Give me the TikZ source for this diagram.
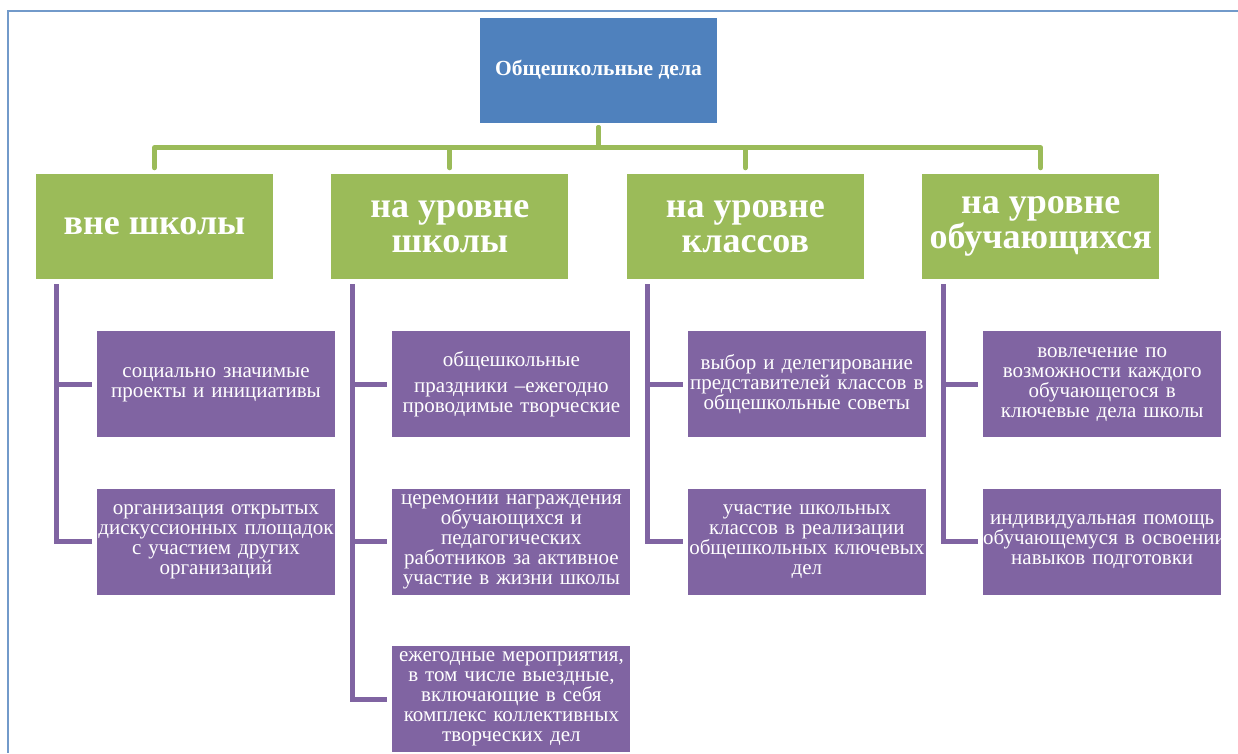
\documentclass[tikz,border=0pt]{standalone}
\usepackage{fontspec}
\setmainfont{Liberation Serif}
\usepackage{xcolor}
\usepackage{tikz}
\usetikzlibrary{positioning}

\definecolor{topblue}{HTML}{4F81BD}
\definecolor{lvlgreen}{HTML}{9BBB59}
\definecolor{subpurple}{HTML}{8064A2}

\begin{document}
\begin{tikzpicture}[x=1pt, y=-1pt, node distance=58pt,
    topbox/.style={rectangle, fill=topblue, text=white, font=\bfseries\fontsize{21.5}{24}\selectfont, minimum width=237pt, minimum height=105pt, inner sep=0pt},
    lvlbox/.style={rectangle, fill=lvlgreen, text=white, font=\bfseries\fontsize{36}{35}\selectfont, minimum width=237pt, minimum height=105pt, inner sep=0pt, align=center},
    subbox/.style={rectangle, fill=subpurple, text=white, font=\fontsize{21}{20}\selectfont, text width=238pt, minimum height=106pt, inner sep=0pt, align=center},
    gline/.style={draw=lvlgreen, line width=5pt, line join=round, line cap=round, shorten <=5pt, shorten >=6pt},
    pline/.style={draw=subpurple, line width=5pt, shorten >=5pt}]

    \useasboundingbox (0,0) rectangle (1238,753);
    \draw[topblue!80, line width=1.5pt] (1238,11) -- (8,11) -- (8,753);

    \node[topbox] (top) at (598.5,70) {Общешкольные дела};

    \node[lvlbox] (g1) at (154.5,226.5) {\raisebox{-3pt}{вне школы}};
    \node[lvlbox, right=of g1] (g2) {на уровне\\школы};
    \node[lvlbox, right=of g2] (g3) {на уровне\\классов};
    \node[lvlbox, right=of g3] (g4) {на уровне\\обучающихся};

    \node[subbox, below=52pt of g1.south west, anchor=north west, xshift=61pt] (a1) {социально значимые\\проекты и инициативы};
    \node[subbox, below=51pt of a1] (a2) {организация открытых\\\mbox{дискуссионных площадок}\\с участием других\\организаций};

    \node[subbox, below=52pt of g2.south west, anchor=north west, xshift=61pt] (b1) {общешкольные\\[6pt]праздники –ежегодно\\проводимые творческие};
    \node[subbox, below=51pt of b1] (b2) {церемонии награждения\\обучающихся и\\педагогических\\работников за активное\\участие в жизни школы};
    \node[subbox, below=51pt of b2] (b3) {ежегодные мероприятия,\\в том числе выездные,\\включающие в себя\\комплекс коллективных\\творческих дел};

    \node[subbox, below=52pt of g3.south west, anchor=north west, xshift=61pt] (c1) {выбор и делегирование\\\mbox{представителей классов в}\\общешкольные советы};
    \node[subbox, below=51pt of c1] (c2) {участие школьных\\классов в реализации\\\mbox{общешкольных ключевых}\\дел};

    \node[subbox, below=52pt of g4.south west, anchor=north west, xshift=61pt] (d1) {вовлечение по\\возможности каждого\\обучающегося в\\ключевые дела школы};
    \node[subbox, below=51pt of d1] (d2) {индивидуальная помощь\\\mbox{обучающемуся в освоении}\\навыков подготовки};

    \draw[gline] (top.south) -- ++(0,25) -| (g1.north);
    \draw[gline] (top.south) -- ++(0,25) -| (g2.north);
    \draw[gline] (top.south) -- ++(0,25) -| (g3.north);
    \draw[gline] (top.south) -- ++(0,25) -| (g4.north);

    \draw[pline] ([xshift=21pt, yshift=-5pt]g1.south west) |- (a1.west);
    \draw[pline] ([xshift=21pt, yshift=-5pt]g1.south west) |- (a2.west);
    \draw[pline] ([xshift=21pt, yshift=-5pt]g2.south west) |- (b1.west);
    \draw[pline] ([xshift=21pt, yshift=-5pt]g2.south west) |- (b2.west);
    \draw[pline] ([xshift=21pt, yshift=-5pt]g2.south west) |- (b3.west);
    \draw[pline] ([xshift=21pt, yshift=-5pt]g3.south west) |- (c1.west);
    \draw[pline] ([xshift=21pt, yshift=-5pt]g3.south west) |- (c2.west);
    \draw[pline] ([xshift=21pt, yshift=-5pt]g4.south west) |- (d1.west);
    \draw[pline] ([xshift=21pt, yshift=-5pt]g4.south west) |- (d2.west);

\end{tikzpicture}
\end{document}
